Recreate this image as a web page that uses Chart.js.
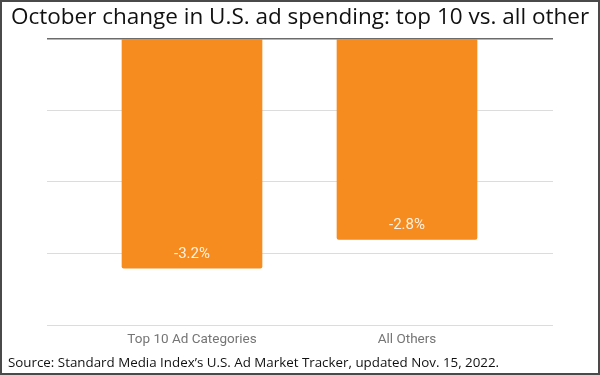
<!DOCTYPE html>
<html>
<head>
<meta charset="utf-8">
<script src="https://cdn.jsdelivr.net/npm/chart.js@4"></script>
<style>
  html, body { margin: 0; padding: 0; background: #fff; }
  #frame { width: 600px; height: 375px; box-sizing: border-box; border: 2px solid #4a4a4a; background: #fff; }
  canvas { display: block; }
</style>
</head>
<body>
<div id="frame"><canvas id="c" width="596" height="371"></canvas></div>
<script>
const titleText = "October change in U.S. ad spending: top 10 vs. all other";
const sourceText = "Source: Standard Media Index\u2019s U.S. Ad Market Tracker, updated Nov. 15, 2022.";
const categories = ["Top 10 Ad Categories", "All Others"];
const changes = [-3.2, -2.8];
const yTicks = [0, -1, -2, -3, -4];

const points = changes.map((v, i) => ({ x: i, y: v }));

const valueLabels = {
  id: 'valueLabels',
  afterDatasetsDraw(chart) {
    const ctx = chart.ctx;
    const meta = chart.getDatasetMeta(0);
    ctx.save();
    ctx.fillStyle = 'rgba(255,246,232,0.97)';
    ctx.font = 'normal 15px Roboto';
    ctx.textAlign = 'center';
    ctx.textBaseline = 'middle';
    meta.data.forEach((el, i) => {
      ctx.fillText(changes[i].toFixed(1) + '%', el.x, el.y - 14);
    });
    ctx.restore();
  }
};

new Chart(document.getElementById('c'), {
  type: 'bar',
  data: {
    datasets: [{
      data: points,
      backgroundColor: '#F68B1F',
      barThickness: 140,
      borderRadius: 2
    }]
  },
  options: {
    responsive: false,
    animation: false,
    layout: { padding: { left: 6, right: 6, top: 0, bottom: 0 } },
    plugins: {
      legend: { display: false },
      tooltip: { enabled: false },
      title: {
        display: true,
        text: titleText,
        color: '#111',
        font: { family: 'Open Sans', size: 22.5, weight: 'normal', lineHeight: 1.2 },
        padding: { top: 2, bottom: 7.5 }
      },
      subtitle: {
        display: true,
        text: sourceText,
        position: 'bottom',
        align: 'start',
        color: '#111',
        font: { family: 'Open Sans', size: 13.35, weight: 'normal', lineHeight: 1.2 },
        padding: { top: 8.3, bottom: 2 }
      }
    },
    scales: {
      x: {
        type: 'linear',
        offset: false,
        min: -0.6744,
        max: 1.679,
        afterBuildTicks(axis) { axis.ticks = categories.map((_, i) => ({ value: i })); },
        afterFit(axis) { axis.height = 21.2; },
        grid: { display: false, drawTicks: false },
        border: { display: false },
        ticks: {
          padding: 6,
          autoSkip: false,
          maxRotation: 0,
          color: '#757575',
          font: { family: 'Roboto', size: 13.5, lineHeight: 1.2 },
          callback: (v) => categories[v] ?? ''
        }
      },
      y: {
        min: -4,
        max: 0,
        afterBuildTicks(axis) { axis.ticks = yTicks.map(v => ({ value: v })); },
        afterFit(axis) { axis.width = 39; },
        border: { display: false },
        ticks: { display: false },
        grid: {
          drawTicks: false,
          color: (c) => c.tick && c.tick.value === 0 ? '#6b6b6b' : '#dcdcdc',
          lineWidth: (c) => c.tick && c.tick.value === 0 ? 1.5 : 1
        }
      },
      yRight: {
        position: 'right',
        display: true,
        afterFit(axis) { axis.width = 39; },
        grid: { display: false, drawTicks: false },
        border: { display: false },
        ticks: { display: false }
      }
    }
  },
  plugins: [valueLabels]
});
</script>
</body>
</html>
